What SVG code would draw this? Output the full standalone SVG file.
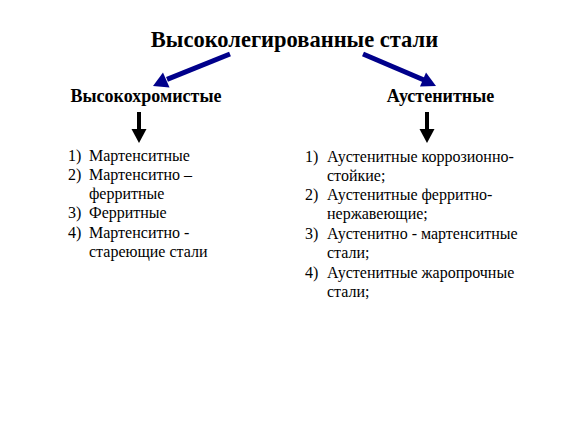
<svg xmlns="http://www.w3.org/2000/svg" width="580" height="435" viewBox="0 0 580 435">
<style>
text{font-family:"Liberation Serif","Times New Roman",serif;fill:#000}
.title{font-size:22.5px;font-weight:bold}
.head{font-size:18px;font-weight:bold}
.item{font-size:16px}
.blue{stroke:#00008b;stroke-width:5;fill:none}
.bluehead{fill:#00008b}
.blk{stroke:#000;stroke-width:4;fill:none}
</style>
<rect width="580" height="435" fill="#fff"/>
<g id="title"><text class="title" x="294.5" y="47" text-anchor="middle">Высоколегированные стали</text></g>
<g id="left-head"><text class="head" x="146" y="102" text-anchor="middle">Высокохромистые</text></g>
<g id="right-head"><text class="head" x="440.5" y="102" text-anchor="middle">Аустенитные</text></g>
<g id="connectors">
<line class="blue" x1="230" y1="54" x2="167" y2="79.4"/>
<path class="bluehead" d="M153,86 L169.5,87.5 L163,72.5 z"/>
<line class="blue" x1="363" y1="54" x2="424" y2="80"/>
<path class="bluehead" d="M436,86 L420,86.5 L426,72.5 z"/>
<line class="blk" x1="139" y1="112" x2="139" y2="131"/>
<path d="M131.5,129 L146.5,129 L139,143 z" fill="#000"/>
<line class="blk" x1="427" y1="112" x2="427" y2="131"/>
<path d="M419.5,129 L434.5,129 L427,143 z" fill="#000"/>
</g>
<g id="left-list">
<text class="item" x="68" y="161">1)</text><text class="item" x="89" y="161">Мартенситные</text>
<text class="item" x="68" y="180">2)</text><text class="item" x="89" y="180">Мартенситно –</text>
<text class="item" x="89" y="199">ферритные</text>
<text class="item" x="68" y="218">3)</text><text class="item" x="89" y="218">Ферритные</text>
<text class="item" x="68" y="238">4)</text><text class="item" x="89" y="238">Мартенситно -</text>
<text class="item" x="89" y="257">стареющие стали</text>
</g>
<g id="right-list">
<text class="item" x="305" y="162">1)</text><text class="item" x="327" y="162">Аустенитные коррозионно-</text>
<text class="item" x="327" y="181">стойкие;</text>
<text class="item" x="305" y="200">2)</text><text class="item" x="327" y="200">Аустенитные ферритно-</text>
<text class="item" x="327" y="219">нержавеющие;</text>
<text class="item" x="305" y="239">3)</text><text class="item" x="327" y="239">Аустенитно - мартенситные</text>
<text class="item" x="327" y="258">стали;</text>
<text class="item" x="305" y="278">4)</text><text class="item" x="327" y="278">Аустенитные жаропрочные</text>
<text class="item" x="327" y="297">стали;</text>
</g>
</svg>
